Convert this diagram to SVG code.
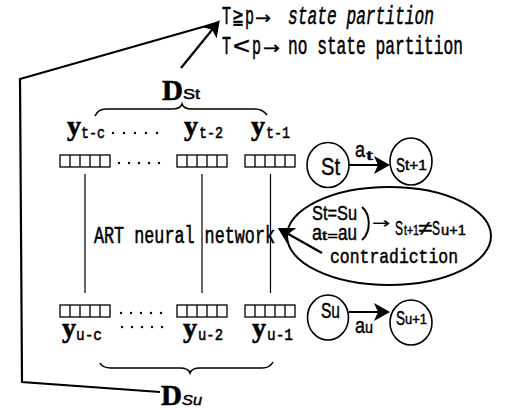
<svg xmlns="http://www.w3.org/2000/svg" width="509" height="410" viewBox="0 0 509 410">
<defs>
<style>
text{fill:#000}
.m{font-family:"Liberation Mono","DejaVu Sans Mono",monospace;stroke:#000;stroke-width:0.55px}
.s{font-family:"Liberation Sans","DejaVu Sans",sans-serif;stroke:#000;stroke-width:0.45px}
.ar{font-family:"DejaVu Sans","Noto Sans",sans-serif;stroke:#000;stroke-width:0.3px}
.b{font-family:"Liberation Serif","DejaVu Serif",serif;font-weight:bold;stroke:#000;stroke-width:0.6px}
.ln{fill:none;stroke:#000;stroke-width:2.2}
.vl{fill:none;stroke:#000;stroke-width:1.2}
.nd{fill:none;stroke:#000;stroke-width:1.6}
.cell{fill:#fff;stroke:#000;stroke-width:1.3}
.dot{fill:#000}
</style>
<marker id="ah" markerUnits="userSpaceOnUse" viewBox="0 0 16 18" refX="10" refY="9" markerWidth="16" markerHeight="18" orient="auto"><path d="M0,0 L16,9 L0,18 L4,9 Z" fill="#000"/></marker>
<g id="cells"><rect x="0" y="0" width="50" height="12" class="cell"/><path d="M10,0V12M20,0V12M30,0V12M40,0V12" stroke="#000" stroke-width="1.3"/></g>
</defs>
<rect width="509" height="410" fill="#fff"/>

<g id="partition-rule">
<text class="m" y="24" font-size="25"><tspan x="222" textLength="9" lengthAdjust="spacingAndGlyphs">T</tspan><tspan class="s" x="232" font-size="22" textLength="12" lengthAdjust="spacingAndGlyphs">≧</tspan><tspan x="245" textLength="9" lengthAdjust="spacingAndGlyphs">p</tspan><tspan class="ar" x="255" y="24" font-size="18" textLength="16" lengthAdjust="spacingAndGlyphs">→</tspan> <tspan x="288" textLength="146" lengthAdjust="spacingAndGlyphs" font-style="italic">state partition</tspan></text>
<text class="m" y="54" font-size="25"><tspan x="222" textLength="9" lengthAdjust="spacingAndGlyphs">T</tspan><tspan class="s" x="233" font-size="24" textLength="17" lengthAdjust="spacingAndGlyphs">&lt;</tspan><tspan x="252" textLength="9" lengthAdjust="spacingAndGlyphs">p</tspan><tspan class="ar" x="263" y="54" font-size="18" textLength="17" lengthAdjust="spacingAndGlyphs">→</tspan> <tspan x="288" textLength="175" lengthAdjust="spacingAndGlyphs">no state partition</tspan></text>
</g>

<g id="D-St">
<text x="162" y="100"><tspan class="b" font-size="29">D</tspan><tspan class="s" x="183" y="99" font-size="14" textLength="17" lengthAdjust="spacingAndGlyphs">St</tspan></text>
<path class="nd" d="M95,116 C97,111 100,109 106,109 L172,109 C178,109 181,107 182,104 C183,107 186,109 192,109 L255,109 C261,109 264,111 267,115"/>
</g>

<g id="D-Su">
<text x="161" y="405"><tspan class="b" font-size="29">D</tspan><tspan class="s" x="182" y="405" font-size="14" font-style="italic" textLength="20" lengthAdjust="spacingAndGlyphs">Su</tspan></text>
<path class="nd" d="M100,363 C102,367 105,368 111,368 L180,368 C186,368 189,370 190,373 C191,370 194,368 200,368 L262,368 C268,368 271,366 273,362"/>
</g>

<g id="sequence-t">
<text x="67" y="135"><tspan class="b" font-size="28">y</tspan><tspan class="m" x="81" y="138" font-size="17" textLength="24" lengthAdjust="spacingAndGlyphs">t-c</tspan></text>
<text x="184" y="135"><tspan class="b" font-size="28">y</tspan><tspan class="m" x="199" y="138" font-size="17" textLength="24" lengthAdjust="spacingAndGlyphs">t-2</tspan></text>
<text x="251" y="135"><tspan class="b" font-size="28">y</tspan><tspan class="m" x="266" y="138" font-size="17" textLength="24" lengthAdjust="spacingAndGlyphs">t-1</tspan></text>
<circle class="dot" cx="113" cy="133" r="1.2"/><circle class="dot" cx="124" cy="133" r="1.2"/><circle class="dot" cx="135" cy="133" r="1.2"/><circle class="dot" cx="146" cy="133" r="1.2"/><circle class="dot" cx="157" cy="133" r="1.2"/>
<use href="#cells" x="60" y="155"/>
<use href="#cells" x="177" y="155"/>
<use href="#cells" x="245" y="155"/>
<circle class="dot" cx="119" cy="163" r="1.2"/><circle class="dot" cx="129" cy="163" r="1.2"/><circle class="dot" cx="139" cy="163" r="1.2"/><circle class="dot" cx="149" cy="163" r="1.2"/><circle class="dot" cx="159" cy="163" r="1.2"/>
</g>

<g id="sequence-u">
<use href="#cells" x="60" y="305"/>
<use href="#cells" x="177" y="305"/>
<use href="#cells" x="245" y="305"/>
<circle class="dot" cx="121" cy="313" r="1.2"/><circle class="dot" cx="131" cy="313" r="1.2"/><circle class="dot" cx="141" cy="313" r="1.2"/><circle class="dot" cx="151" cy="313" r="1.2"/><circle class="dot" cx="161" cy="313" r="1.2"/>
<text x="62" y="337"><tspan class="b" font-size="28">y</tspan><tspan class="m" x="76" y="340" font-size="17" textLength="26" lengthAdjust="spacingAndGlyphs">u-c</tspan></text>
<text x="183" y="337"><tspan class="b" font-size="28">y</tspan><tspan class="m" x="198" y="340" font-size="17" textLength="25" lengthAdjust="spacingAndGlyphs">u-2</tspan></text>
<text x="252" y="337"><tspan class="b" font-size="28">y</tspan><tspan class="m" x="267" y="340" font-size="17" textLength="26" lengthAdjust="spacingAndGlyphs">u-1</tspan></text>
<circle class="dot" cx="122" cy="327" r="1.2"/><circle class="dot" cx="132" cy="327" r="1.2"/><circle class="dot" cx="142" cy="327" r="1.2"/><circle class="dot" cx="152" cy="327" r="1.2"/><circle class="dot" cx="162" cy="327" r="1.2"/>
</g>

<g id="art-network">
<text class="m" x="94" y="243" font-size="23" textLength="181" lengthAdjust="spacingAndGlyphs">ART neural network</text>
</g>

<g id="state-St">
<ellipse class="nd" cx="328" cy="165" rx="21" ry="22.5"/>
<text class="s" x="321" y="175" font-size="24" textLength="19" lengthAdjust="spacingAndGlyphs">St</text>
</g>
<g id="state-St1">
<ellipse class="nd" cx="411" cy="161.5" rx="21" ry="23.5"/>
<text class="s" y="172" font-size="21"><tspan x="396" textLength="9" lengthAdjust="spacingAndGlyphs">S</tspan><tspan x="405" y="170" font-size="14" textLength="22" lengthAdjust="spacingAndGlyphs">t+1</tspan></text>
</g>
<g id="state-Su">
<ellipse class="nd" cx="328" cy="317.5" rx="20.5" ry="22.5"/>
<text class="s" x="321" y="318" font-size="22" textLength="19" lengthAdjust="spacingAndGlyphs">Su</text>
</g>
<g id="state-Su1">
<ellipse class="nd" cx="411" cy="322.5" rx="21" ry="22.5"/>
<text class="s" y="325" font-size="21"><tspan x="396" textLength="9" lengthAdjust="spacingAndGlyphs">S</tspan><tspan x="405" y="324" font-size="14" textLength="22" lengthAdjust="spacingAndGlyphs">u+1</tspan></text>
</g>

<g id="contradiction">
<ellipse cx="389" cy="236" rx="102" ry="49" fill="none" stroke="#000" stroke-width="2"/>
<text class="s" x="312" y="220" font-size="20" textLength="45" lengthAdjust="spacingAndGlyphs">St=Su</text>
<text class="s" y="240" font-size="22"><tspan x="312" textLength="10" lengthAdjust="spacingAndGlyphs">a</tspan><tspan x="322" font-size="13" textLength="16" lengthAdjust="spacingAndGlyphs">t=</tspan><tspan x="338" textLength="19" lengthAdjust="spacingAndGlyphs">au</tspan></text>
<path d="M362,207 C371,215 371,232 362,240" fill="none" stroke="#000" stroke-width="2"/>
<text class="ar" x="372" y="228" font-size="15" textLength="18" lengthAdjust="spacingAndGlyphs">→</text>
<text class="s" y="235" font-size="21"><tspan x="395" textLength="8" lengthAdjust="spacingAndGlyphs">S</tspan><tspan x="404" font-size="14" textLength="15" lengthAdjust="spacingAndGlyphs">t+1</tspan><tspan x="418" font-size="20" textLength="14" lengthAdjust="spacingAndGlyphs">≠</tspan><tspan x="432" textLength="8" lengthAdjust="spacingAndGlyphs">S</tspan><tspan x="441" font-size="14" textLength="25" lengthAdjust="spacingAndGlyphs">u+1</tspan></text>
<text class="m" x="330" y="263" font-size="21" textLength="128" lengthAdjust="spacingAndGlyphs">contradiction</text>
</g>

<g id="action-labels">
<text class="s" y="157" font-size="22"><tspan x="355" textLength="10" lengthAdjust="spacingAndGlyphs">a</tspan><tspan x="366" y="160" font-size="13" textLength="7" lengthAdjust="spacingAndGlyphs">t</tspan></text>
<text class="s" y="333" font-size="22"><tspan x="355" textLength="10" lengthAdjust="spacingAndGlyphs">a</tspan><tspan x="365" font-size="17" textLength="8" lengthAdjust="spacingAndGlyphs">u</tspan></text>
</g>

<g id="connectors">
<path class="ln" d="M160,392 L22,382 L20,79 L213,24"/>
<path class="ln" d="M181,68 L216,25" marker-end="url(#ah)"/>
<path class="vl" d="M85,174V293M202,174V293M270.5,174V293"/>
<path class="ln" d="M349,165 L384,165" marker-end="url(#ah)"/>
<path class="ln" d="M349,312 L384,312" marker-end="url(#ah)"/>
<path class="ln" d="M322,253 L283,231" marker-end="url(#ah)"/>
</g>
</svg>
